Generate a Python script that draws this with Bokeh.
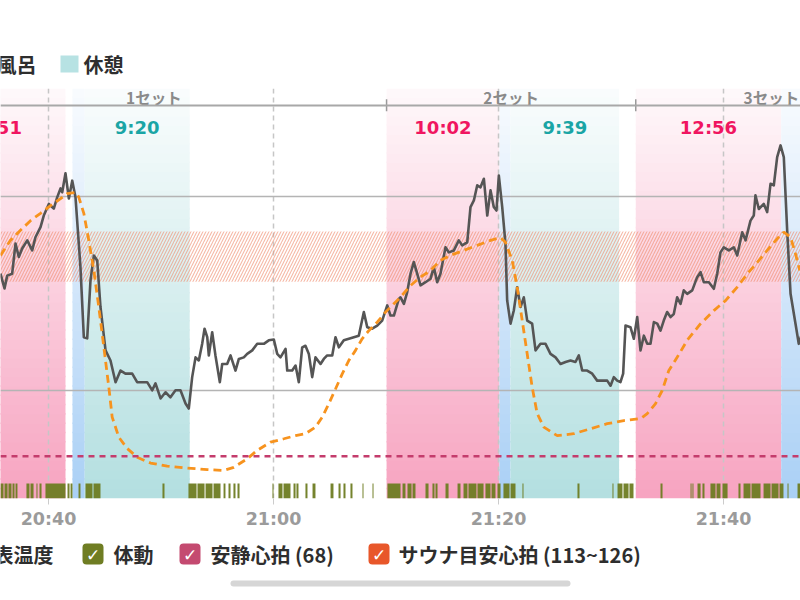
import numpy as np
from bokeh.plotting import figure
from bokeh.layouts import column
from bokeh.models import Range1d, FixedTicker, Span, BoxAnnotation
from bokeh.core.properties import value
from bokeh.embed import file_html
from bokeh.resources import INLINE

# ---------------- data (times = minutes after 20:00) ----------------
hr_min = [35.73, 36.09, 36.33, 36.77, 37.07, 37.36, 37.66, 38.11, 38.55, 38.84,
          39.29, 39.58, 40.03, 40.47, 40.77, 41.07, 41.22, 41.51, 41.81, 42.11,
          42.40, 42.84, 43.14, 43.44, 43.73, 44.03, 44.33, 44.62, 45.07, 45.51,
          45.96, 46.40, 46.84, 47.44, 47.88, 48.33, 48.77, 49.22, 49.51, 49.96,
          50.40, 50.84, 51.29, 51.73, 52.18, 52.47, 52.77, 53.07, 53.36, 53.66,
          53.87, 54.11, 54.25, 54.55, 54.84, 55.23, 55.44, 55.88, 56.18, 56.62,
          56.92, 57.36, 57.66, 58.11, 58.55, 59.14, 59.58, 60.03, 60.33, 60.62,
          61.07, 61.22, 61.66, 61.96, 62.25, 62.55, 62.84, 63.14, 63.44, 63.73,
          64.18, 64.47, 64.77, 65.22, 65.51, 65.81, 66.25, 66.70, 67.14, 67.58,
          68.03, 68.33, 68.77, 69.22, 69.66, 70.11, 70.40, 70.70, 71.14, 71.29,
          71.59, 71.88, 72.18, 72.47, 72.77, 73.07, 73.51, 73.96, 74.25, 74.55,
          74.84, 75.29, 75.58, 76.03, 76.47, 76.77, 77.22, 77.51, 77.81, 78.11,
          78.40, 78.70, 79.00, 79.29, 79.58, 79.82, 80.03, 80.33, 80.62, 80.77,
          81.07, 81.36, 81.66, 81.96, 82.25, 82.55, 82.99, 83.29, 83.73, 84.18,
          84.62, 85.07, 85.51, 85.96, 86.40, 86.84, 87.14, 87.44, 87.88, 88.33,
          88.77, 89.22, 89.66, 89.96, 90.25, 90.55, 90.84, 91.08, 91.29, 91.73,
          92.03, 92.33, 92.62, 92.92, 93.22, 93.51, 93.81, 94.11, 94.40, 94.69,
          94.99, 95.29, 95.58, 95.88, 96.18, 96.47, 96.77, 97.22, 97.66, 97.96,
          98.25, 98.70, 99.14, 99.44, 99.73, 100.03, 100.47, 100.92, 101.22, 101.66,
          101.96, 102.40, 102.69, 102.84, 103.14, 103.58, 103.88, 104.18, 104.47, 104.77,
          105.07, 105.36, 105.66, 105.96, 106.40, 106.69, 106.90]
hr_bpm = [115.1, 111.3, 114.6, 115.1, 122.9, 119.4, 121.6, 123.7, 121.1, 124.5,
          127.1, 130.1, 133.1, 131.9, 134.8, 137.1, 136.1, 141.0, 134.5, 139.1,
          134.8, 116.8, 98.7, 98.4, 113.3, 119.8, 118.5, 106.5, 95.3, 92.7,
          87.1, 90.1, 89.3, 89.3, 87.1, 87.1, 87.1, 85.0, 86.8, 82.9,
          84.5, 83.2, 85.0, 85.0, 81.6, 80.3, 88.4, 93.5, 92.7, 97.0,
          100.9, 98.7, 94.0, 100.0, 94.0, 87.1, 91.8, 91.8, 94.0, 90.1,
          93.1, 93.5, 94.4, 95.3, 97.0, 97.0, 97.9, 98.1, 94.4, 93.5,
          95.7, 90.1, 90.1, 91.4, 87.1, 96.1, 96.5, 94.4, 88.4, 93.5,
          91.8, 93.1, 94.0, 94.0, 98.7, 96.1, 97.9, 98.3, 98.7, 99.1,
          105.2, 101.3, 100.9, 101.7, 103.0, 106.9, 104.3, 104.3, 108.6, 109.0,
          107.3, 110.3, 115.1, 118.1, 115.1, 112.1, 112.9, 113.8, 116.8, 112.9,
          115.1, 121.9, 120.6, 121.1, 123.7, 122.4, 123.2, 132.3, 134.0, 137.9,
          137.4, 139.6, 130.1, 136.6, 132.3, 131.4, 140.4, 132.3, 122.8, 108.2,
          102.2, 105.6, 111.6, 106.5, 109.0, 103.0, 102.2, 95.3, 97.0, 97.0,
          94.4, 93.5, 91.8, 92.3, 92.7, 92.3, 94.0, 90.1, 90.1, 89.3,
          87.5, 87.5, 87.5, 86.2, 88.4, 87.5, 87.1, 89.3, 101.7, 101.3,
          98.3, 103.9, 95.3, 99.1, 97.0, 97.0, 102.6, 102.2, 100.4, 103.0,
          105.2, 103.9, 104.7, 109.0, 107.3, 110.8, 109.9, 110.8, 114.2, 115.5,
          112.9, 112.9, 111.2, 115.1, 120.6, 121.9, 121.1, 121.9, 119.8, 125.8,
          123.7, 128.8, 130.1, 135.3, 131.8, 133.1, 131.0, 138.3, 137.9, 145.2,
          148.2, 145.2, 126.2, 109.9, 102.2, 97.0, 99.0]

temp_min = [35.73, 36.62, 37.51, 38.40, 39.29, 40.18, 41.07, 41.66, 42.40, 42.69,
            43.14, 43.58, 44.03, 44.47, 44.92, 45.36, 45.66, 46.25, 46.99, 47.88,
            49.07, 50.55, 52.33, 54.11, 55.58, 56.47, 57.66, 58.55, 59.73, 60.92,
            61.96, 62.84, 63.73, 64.33, 64.92, 65.51, 66.11, 66.70, 67.29, 67.88,
            68.47, 69.22, 69.96, 70.70, 71.29, 72.18, 73.07, 73.96, 74.84, 75.73,
            76.92, 78.11, 79.29, 80.18, 80.62, 81.22, 81.66, 82.11, 82.55, 82.99,
            83.44, 84.03, 85.22, 86.69, 88.18, 89.66, 91.14, 92.62, 93.22, 93.96,
            94.55, 95.14, 95.88, 96.77, 97.96, 99.14, 100.18, 101.22, 102.11, 103.00,
            103.88, 104.77, 105.36, 105.96, 106.40, 106.78]
temp_c = [36.50, 36.89, 37.15, 37.40, 37.59, 37.79, 37.97, 38.10, 38.13, 38.01,
          37.59, 36.89, 36.11, 35.16, 34.12, 33.09, 32.31, 31.79, 31.50, 31.27,
          31.12, 31.04, 30.99, 30.95, 30.93, 31.01, 31.23, 31.45, 31.66, 31.75,
          31.83, 31.88, 32.05, 32.31, 32.66, 33.04, 33.43, 33.78, 34.04, 34.34,
          34.55, 34.77, 35.03, 35.25, 35.42, 35.72, 35.94, 36.11, 36.37, 36.50,
          36.63, 36.76, 36.89, 36.96, 36.84, 36.37, 35.68, 34.81, 33.95, 33.09,
          32.40, 32.05, 31.83, 31.88, 32.01, 32.14, 32.22, 32.27, 32.40, 32.66,
          33.00, 33.52, 33.86, 34.30, 34.73, 35.07, 35.33, 35.68, 36.02, 36.32,
          36.63, 36.93, 37.10, 36.97, 36.54, 36.11]

act_start = [35.73, 36.09, 36.44, 36.80, 37.07, 38.04, 38.40, 38.93, 39.20, 39.73,
             41.69, 41.96, 42.67, 43.29, 44.00, 50.13, 52.44, 53.24, 53.96, 54.67,
             55.56, 56.00, 56.44, 56.80, 59.91, 60.44, 60.89, 61.78, 62.04, 62.84,
             63.47, 65.07, 65.78, 66.22, 66.84, 67.91, 68.80, 70.13, 71.47, 71.91,
             72.36, 73.51, 74.13, 74.40, 75.29, 76.36, 76.89, 77.33, 78.13, 78.84,
             79.38, 79.91, 80.44, 81.07, 82.13, 87.02, 90.13, 90.58, 91.11, 91.64,
             94.40, 97.07, 97.24, 97.69, 98.13, 98.84, 99.38, 99.91, 101.33, 101.78,
             102.49, 103.56, 104.27, 104.98, 105.69, 106.58]
act_end = [36.00, 36.36, 36.71, 36.98, 37.24, 38.31, 38.67, 39.02, 39.38, 41.51,
           41.87, 42.13, 42.84, 43.91, 44.62, 50.31, 53.16, 53.87, 54.58, 55.29,
           55.73, 56.18, 56.62, 56.98, 60.00, 60.80, 61.51, 61.96, 62.22, 63.02,
           63.73, 65.33, 65.96, 66.40, 67.02, 68.00, 68.89, 71.29, 71.73, 72.27,
           72.62, 73.78, 74.31, 74.58, 75.56, 76.62, 77.24, 78.04, 78.67, 79.29,
           79.73, 80.18, 80.98, 81.51, 82.22, 87.20, 90.22, 91.02, 91.56, 92.00,
           94.58, 97.16, 97.33, 97.96, 98.31, 99.29, 99.73, 100.36, 101.51, 102.40,
           103.29, 104.18, 104.89, 105.33, 105.78, 106.84]

seg_kind = ["sauna", "water", "rest", "sauna", "water", "rest", "sauna", "water"]
seg_start = [28.67, 42.13, 43.22, 70.05, 80.08, 81.07, 92.20, 105.13]
seg_end = [41.51, 43.22, 52.55, 80.08, 81.07, 90.72, 105.13, 106.95]
seg_label = ["12:51", "", "9:20", "10:02", "", "9:39", "12:56", ""]

set_names = ["1セット", "2セット", "3セット"]
set_start = [28.67, 70.05, 92.20]
set_end = [70.05, 92.20, 116.30]

rest_hr = 68
sauna_hr = [113, 126]
tick_min = [40, 60, 80, 100]
tick_lbl = ["20:40", "21:00", "21:20", "21:40"]

# ---------------- styling ----------------
JP = value("Noto Sans CJK JP")
NUM = value("DejaVu Sans")
seg_color = {"sauna": "#f7a3c0", "water": "#a9cff5", "rest": "#b3dfe0"}
lab_color = {"sauna": "#f01560", "rest": "#1aa5a5"}

Y_LO, Y_HI = 57.08, 162.89
X_LO, X_HI = 35.733, 106.844


def blend(hexc, a):
    r, g, b = int(hexc[1:3], 16), int(hexc[3:5], 16), int(hexc[5:7], 16)
    return "#%02x%02x%02x" % (round(255 - (255 - r) * a), round(255 - (255 - g) * a),
                              round(255 - (255 - b) * a))


p = figure(width=800, height=455, x_range=Range1d(X_LO, X_HI), y_range=Range1d(Y_LO, Y_HI),
           output_backend="svg", toolbar_location=None,
           min_border_left=0, min_border_right=0, min_border_top=8, min_border_bottom=37)
p.extra_y_ranges = {"temp": Range1d(30.202, 40.824), "act": Range1d(0, 27.33)}
p.outline_line_color = None
p.background_fill_color = "white"
p.border_fill_color = "white"
p.yaxis.visible = False

# gradient background bands
n = 44
edges = np.linspace(Y_LO, Y_HI, n + 1)
L, R, B, T, C = [], [], [], [], []
for k, s, e in zip(seg_kind, seg_start, seg_end):
    for i in range(n):
        f = (i + 0.5) / n
        L.append(s); R.append(e)
        B.append(edges[i]); T.append(edges[i + 1] + (0.4 if i < n - 1 else 0))
        C.append(blend(seg_color[k], 1.0 - 0.93 * f))
bg = p.quad(left=L, right=R, bottom=B, top=T, fill_color=C, line_color=None)
bg.level = "image"

# grids
p.xgrid.ticker = FixedTicker(ticks=tick_min)
p.xgrid.grid_line_color = "#c6c6c6"
p.xgrid.grid_line_dash = "5 4"
p.xgrid.grid_line_width = 1.5
p.ygrid.ticker = FixedTicker(ticks=[85, 135])
p.ygrid.grid_line_color = "#b4b4b4"
p.ygrid.grid_line_width = 1.6

# x axis
p.xaxis.ticker = FixedTicker(ticks=tick_min)
p.xaxis.major_label_overrides = dict(zip(tick_min, tick_lbl))
p.xaxis.axis_line_color = None
p.xaxis.major_tick_line_color = "#cccccc"
p.xaxis.major_tick_in = 0
p.xaxis.major_tick_out = 6
p.xaxis.minor_tick_line_color = None
p.xaxis.major_label_standoff = 4
p.xaxis.major_label_text_font = "DejaVu Sans"
p.xaxis.major_label_text_font_style = "bold"
p.xaxis.major_label_text_font_size = "17.5px"
p.xaxis.major_label_text_color = "#9b9b9b"

# sauna target band (hatched)
band = BoxAnnotation(bottom=sauna_hr[0], top=sauna_hr[1], fill_color=None, line_color=None,
                     hatch_pattern="/", hatch_color="#f08a6c", hatch_alpha=0.6,
                     hatch_scale=6, hatch_weight=1.1, level="underlay")
p.add_layout(band)

# set header
p.add_layout(Span(location=158.5, dimension="width", line_color="#a8a8a8", line_width=2))
p.segment(x0=set_start, y0=[157.0] * 3, x1=set_start, y1=[160.1] * 3,
          line_color="#9a9a9a", line_width=1.5)
set_mid = [(a + b) / 2 for a, b in zip(set_start, set_end)]
p.text(x=set_mid, y=[160.7] * 3, text=set_names, text_font=JP, text_font_style="bold",
       text_font_size="15.5px", text_color="#8a8a8a", text_align="center",
       text_baseline="middle")

# duration labels
dl = [(s + e) / 2 for s, e, t in zip(seg_start, seg_end, seg_label) if t]
dt = [t for t in seg_label if t]
dc = [lab_color[k] for k, t in zip(seg_kind, seg_label) if t]
p.text(x=dl, y=[152.8] * len(dl), text=dt, text_font=NUM, text_font_style="bold",
       text_font_size="18px", text_color=dc, text_align="center", text_baseline="middle")

# activity
p.quad(left=act_start, right=act_end, bottom=0, top=1, y_range_name="act",
       fill_color="#6e7c22", fill_alpha=0.95, line_color=None)

# resting heart rate
p.add_layout(Span(location=rest_hr, dimension="width", line_color="#c43c6c",
                  line_dash="6 5", line_width=2.6))

# heart rate & skin temperature
p.line(hr_min, hr_bpm, line_color="#555555", line_width=2.6, line_join="round")
p.line(temp_min, temp_c, y_range_name="temp", line_color="#f7931e", line_width=2.8,
       line_dash="8 5")


# ---------------- legends ----------------
def blank(h, y0, y1):
    f = figure(width=800, height=h, x_range=Range1d(0, 800), y_range=Range1d(y0, y1),
               output_backend="svg", toolbar_location=None, min_border=0)
    f.axis.visible = False
    f.grid.visible = False
    f.outline_line_color = None
    return f


top = blank(80, 80, 0)
top.add_layout(BoxAnnotation(left=-42, right=-25, top=55, bottom=72, fill_color="#a9cff5",
                             fill_alpha=1, line_color=None, level="underlay"))
top.text(x=[36], y=[64], text=["水風呂"], text_font=JP, text_font_size="20px",
         text_font_style="bold", text_color="#2e2e2e", text_align="right",
         text_baseline="middle")
top.add_layout(BoxAnnotation(left=60, right=78, top=55, bottom=72, fill_color="#b7e2e3",
                             fill_alpha=1, line_color=None, level="underlay"))
top.text(x=[83], y=[64], text=["休憩"], text_font=JP, text_font_size="20px",
         text_font_style="bold", text_color="#2e2e2e", text_align="left",
         text_baseline="middle")

bot = blank(65, 600, 535)
items = [("体表温度", "#f7931e", -40, 53),
         ("体動", "#6f7d23", 82, 113),
         ("安静心拍 (%d)" % rest_hr, "#c44a70", 179, 210),
         ("サウナ目安心拍 (%d~%d)" % (sauna_hr[0], sauna_hr[1]), "#e8572a", 368, 398)]
for i, (lab, col, bx, tx) in enumerate(items):
    bot.add_layout(BoxAnnotation(left=bx, right=bx + 21, top=543, bottom=564, fill_color=col,
                                 fill_alpha=1, line_color=None, border_radius=4,
                                 level="underlay"))
    bot.text(x=[bx + 10.5], y=[554], text=["✓"], text_font=NUM, text_font_style="bold",
             text_font_size="17px", text_color="white", text_align="center",
             text_baseline="middle")
    bot.text(x=[tx], y=[554], text=[lab], text_font=JP, text_font_size="20px",
             text_font_style="bold", text_color="#2e2e2e",
             text_align="right" if i == 0 else "left", text_baseline="middle")
bot.line(x=[233, 567], y=[583, 583], line_color="#d6d6d6", line_width=6, line_cap="round")

layout = column(top, p, bot)
open("out.html", "w").write(file_html(layout, INLINE))
